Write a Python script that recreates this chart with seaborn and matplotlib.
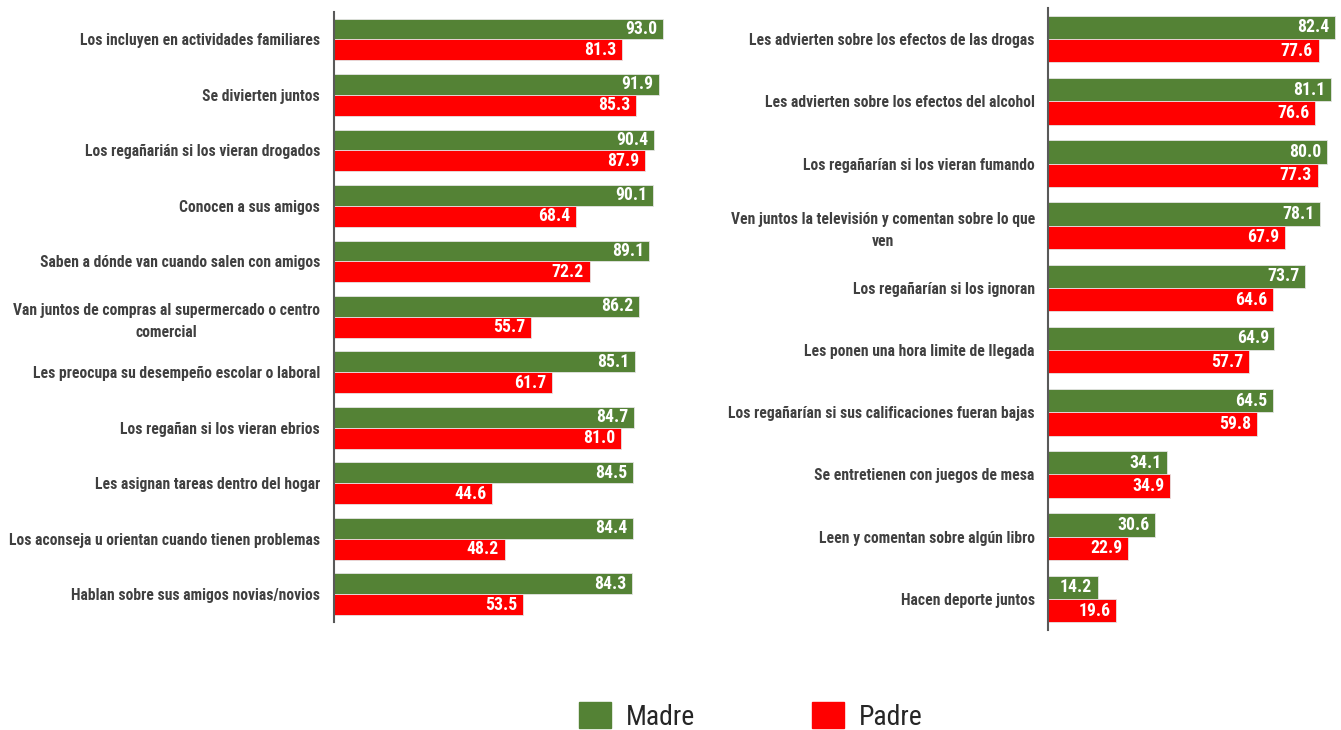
import matplotlib
matplotlib.use("Agg")
import matplotlib.pyplot as plt
import matplotlib.font_manager as fm
import seaborn as sns
import pandas as pd
from matplotlib.patches import Patch

left_categories = [
    "Los incluyen en actividades familiares",
    "Se divierten juntos",
    "Los regañarián si los vieran drogados",
    "Conocen a sus amigos",
    "Saben a dónde van cuando salen con amigos",
    "Van juntos de compras al supermercado o centro\ncomercial",
    "Les preocupa su desempeño escolar o laboral",
    "Los regañan si los vieran ebrios",
    "Les asignan tareas dentro del hogar",
    "Los aconseja u orientan cuando tienen problemas",
    "Hablan sobre sus amigos novias/novios",
]
left_madre = [93.0, 91.9, 90.4, 90.1, 89.1, 86.2, 85.1, 84.7, 84.5, 84.4, 84.3]
left_padre = [81.3, 85.3, 87.9, 68.4, 72.2, 55.7, 61.7, 81.0, 44.6, 48.2, 53.5]

right_categories = [
    "Les advierten sobre los efectos de las drogas",
    "Les advierten sobre los efectos del alcohol",
    "Los regañarían si los vieran fumando",
    "Ven juntos la televisión y comentan sobre lo que\nven",
    "Los regañarían si los ignoran",
    "Les ponen una hora limite de llegada",
    "Los regañarían si sus calificaciones fueran bajas",
    "Se entretienen con juegos de mesa",
    "Leen y comentan sobre algún libro",
    "Hacen deporte juntos",
]
right_madre = [82.4, 81.1, 80.0, 78.1, 73.7, 64.9, 64.5, 34.1, 30.6, 14.2]
right_padre = [77.6, 76.6, 77.3, 67.9, 64.6, 57.7, 59.8, 34.9, 22.9, 19.6]

series = ["Madre", "Padre"]
colors = {"Madre": "#548235", "Padre": "#FF0000"}

sns.set_style("white")

# pick the narrowest available family
family = "DejaVu Sans"
for cand in ["Roboto Condensed", "Liberation Sans Narrow", "Open Sans Condensed",
             "Lato", "Roboto", "Liberation Sans"]:
    try:
        fm.findfont(fm.FontProperties(family=cand), fallback_to_default=False)
        family = cand
        break
    except Exception:
        continue
plt.rcParams["font.family"] = [family, "DejaVu Sans"]

fig = plt.figure(figsize=(13.41, 7.30), dpi=100)
renderer = fig.canvas.get_renderer()


def fit_size(text, target_px, base=10.0, cap=13.0):
    t = fig.text(0, 0, text, fontsize=base, fontweight="bold")
    w = t.get_window_extent(renderer).width
    t.remove()
    return min(base * target_px / w, cap)


label_size = min(fit_size("Los aconseja u orientan cuando tienen problemas", 310),
                 fit_size("Les advierten sobre los efectos de las drogas", 290))
value_size = fit_size("93.0", 32)

ax1 = fig.add_axes([0.249, 0.148, 0.264, 0.836])
ax2 = fig.add_axes([0.7815, 0.137, 0.2185, 0.852])


def draw(ax, cats, madre, padre, xmax, pad):
    df = pd.DataFrame({
        "cat": cats * 2,
        "val": madre + padre,
        "serie": ["Madre"] * len(cats) + ["Padre"] * len(cats),
    })
    sns.barplot(data=df, y="cat", x="val", hue="serie", hue_order=series,
                palette=colors, saturation=1, orient="h", width=0.75, ax=ax,
                edgecolor="#e4e4e4", linewidth=0.6, legend=False)
    ax.set_xlim(0, xmax)
    ax.set_xlabel("")
    ax.set_ylabel("")
    ax.set_xticks([])
    for s in ["top", "right", "bottom"]:
        ax.spines[s].set_visible(False)
    ax.spines["left"].set_color("#595959")
    ax.spines["left"].set_linewidth(1.5)
    ax.tick_params(axis="y", length=0, pad=pad)
    for lab in ax.get_yticklabels():
        lab.set_fontsize(label_size)
        lab.set_fontweight("bold")
        lab.set_color("#404040")
        lab.set_multialignment("center")
        lab.set_linespacing(1.55)
    for cont in ax.containers:
        texts = ax.bar_label(cont, fmt="%.1f", padding=-4, label_type="edge",
                             color="white", fontsize=value_size, fontweight="bold")
        for t in texts:
            t.set_ha("right")


draw(ax1, left_categories, left_madre, left_padre, 100, 10)
draw(ax2, right_categories, right_madre, right_padre, 84, 9.5)

handles = [Patch(facecolor=colors[s], edgecolor=colors[s]) for s in series]
fig.legend(handles, series, loc="lower center", bbox_to_anchor=(0.56, -0.035),
           ncol=2, frameon=False, fontsize=20, handlelength=1.15, handleheight=1.1,
           columnspacing=4.2, handletextpad=0.55)

fig.savefig("out.png", dpi=100)
